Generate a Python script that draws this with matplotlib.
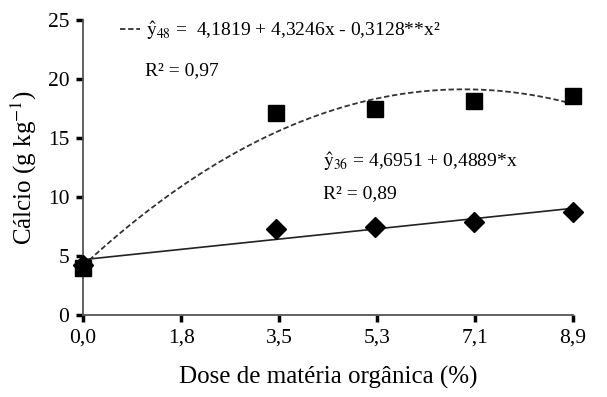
import numpy as np
import matplotlib
matplotlib.use("Agg")
import matplotlib.pyplot as plt

plt.rcParams['font.family'] = ['Liberation Serif', 'DejaVu Serif']
plt.rcParams['mathtext.fontset'] = 'stix'

# data
dose = [0.0, 3.5, 5.3, 7.1, 8.9]
ca_48 = [4.0, 17.1, 17.5, 18.1, 18.6]
ca_36 = [4.2, 7.3, 7.5, 7.9, 8.7]
xtick_labels = ["0,0", "1,8", "3,5", "5,3", "7,1", "8,9"]
coef_48 = [4.1819, 4.3246, -0.3128]
coef_36 = [4.6951, 0.4889]

xs = np.linspace(0, 8.9, 200)
fit48 = coef_48[0] + coef_48[1] * xs + coef_48[2] * xs ** 2
fit36 = coef_36[0] + coef_36[1] * xs

fig = plt.figure(figsize=(6.07, 3.97), dpi=100)
ax = fig.add_axes([0.137, 0.2065, 0.807, 0.743])

l48, = ax.plot(xs, fit48, color='#333333', lw=1.3, ls=(0, (3, 1.5)))
ax.plot(xs, fit36, color='#222222', lw=1.2)
ax.plot(dose, ca_48, 's', color='black', ms=12, clip_on=False, zorder=5)
ax.plot(dose, ca_36, 'D', color='black', ms=10, clip_on=False, zorder=5)

ax.set_xlim(0, 8.9)
ax.set_ylim(0, 25)
ax.set_xticks(np.linspace(0, 8.9, 6))
ax.set_xticklabels(xtick_labels)
ax.set_yticks([0, 5, 10, 15, 20, 25])
ax.tick_params(direction='out', length=5, width=2.5, labelsize=15.5, color='black', pad=5)

for s in ['top', 'right']:
    ax.spines[s].set_visible(False)
for s in ['left', 'bottom']:
    ax.spines[s].set_color('#555555')
    ax.spines[s].set_linewidth(1.3)

ax.set_xlabel("Dose de matéria orgânica (%)", fontsize=18, labelpad=13)
ax.set_ylabel("Cálcio (g kg$^{-1}$)", fontsize=18, labelpad=6)

leg = ax.legend([l48], [r"$\hat{\mathrm{y}}_{48}$ =  4,1819 + 4,3246x - 0,3128**x²"],
                loc='upper left', bbox_to_anchor=(0.06, 1.03), frameon=False,
                fontsize=14, handlelength=1.0, handletextpad=0.3, borderaxespad=0)
ax.text(0.127, 0.83, "R² = 0,97", transform=ax.transAxes, fontsize=14, va='center')
ax.text(0.49, 0.52, r"$\hat{\mathrm{y}}_{36}$ = 4,6951 + 0,4889*x", transform=ax.transAxes,
        fontsize=14, va='center')
ax.text(0.49, 0.41, "R² = 0,89", transform=ax.transAxes, fontsize=14, va='center')

fig.savefig("out.png", dpi=100)
